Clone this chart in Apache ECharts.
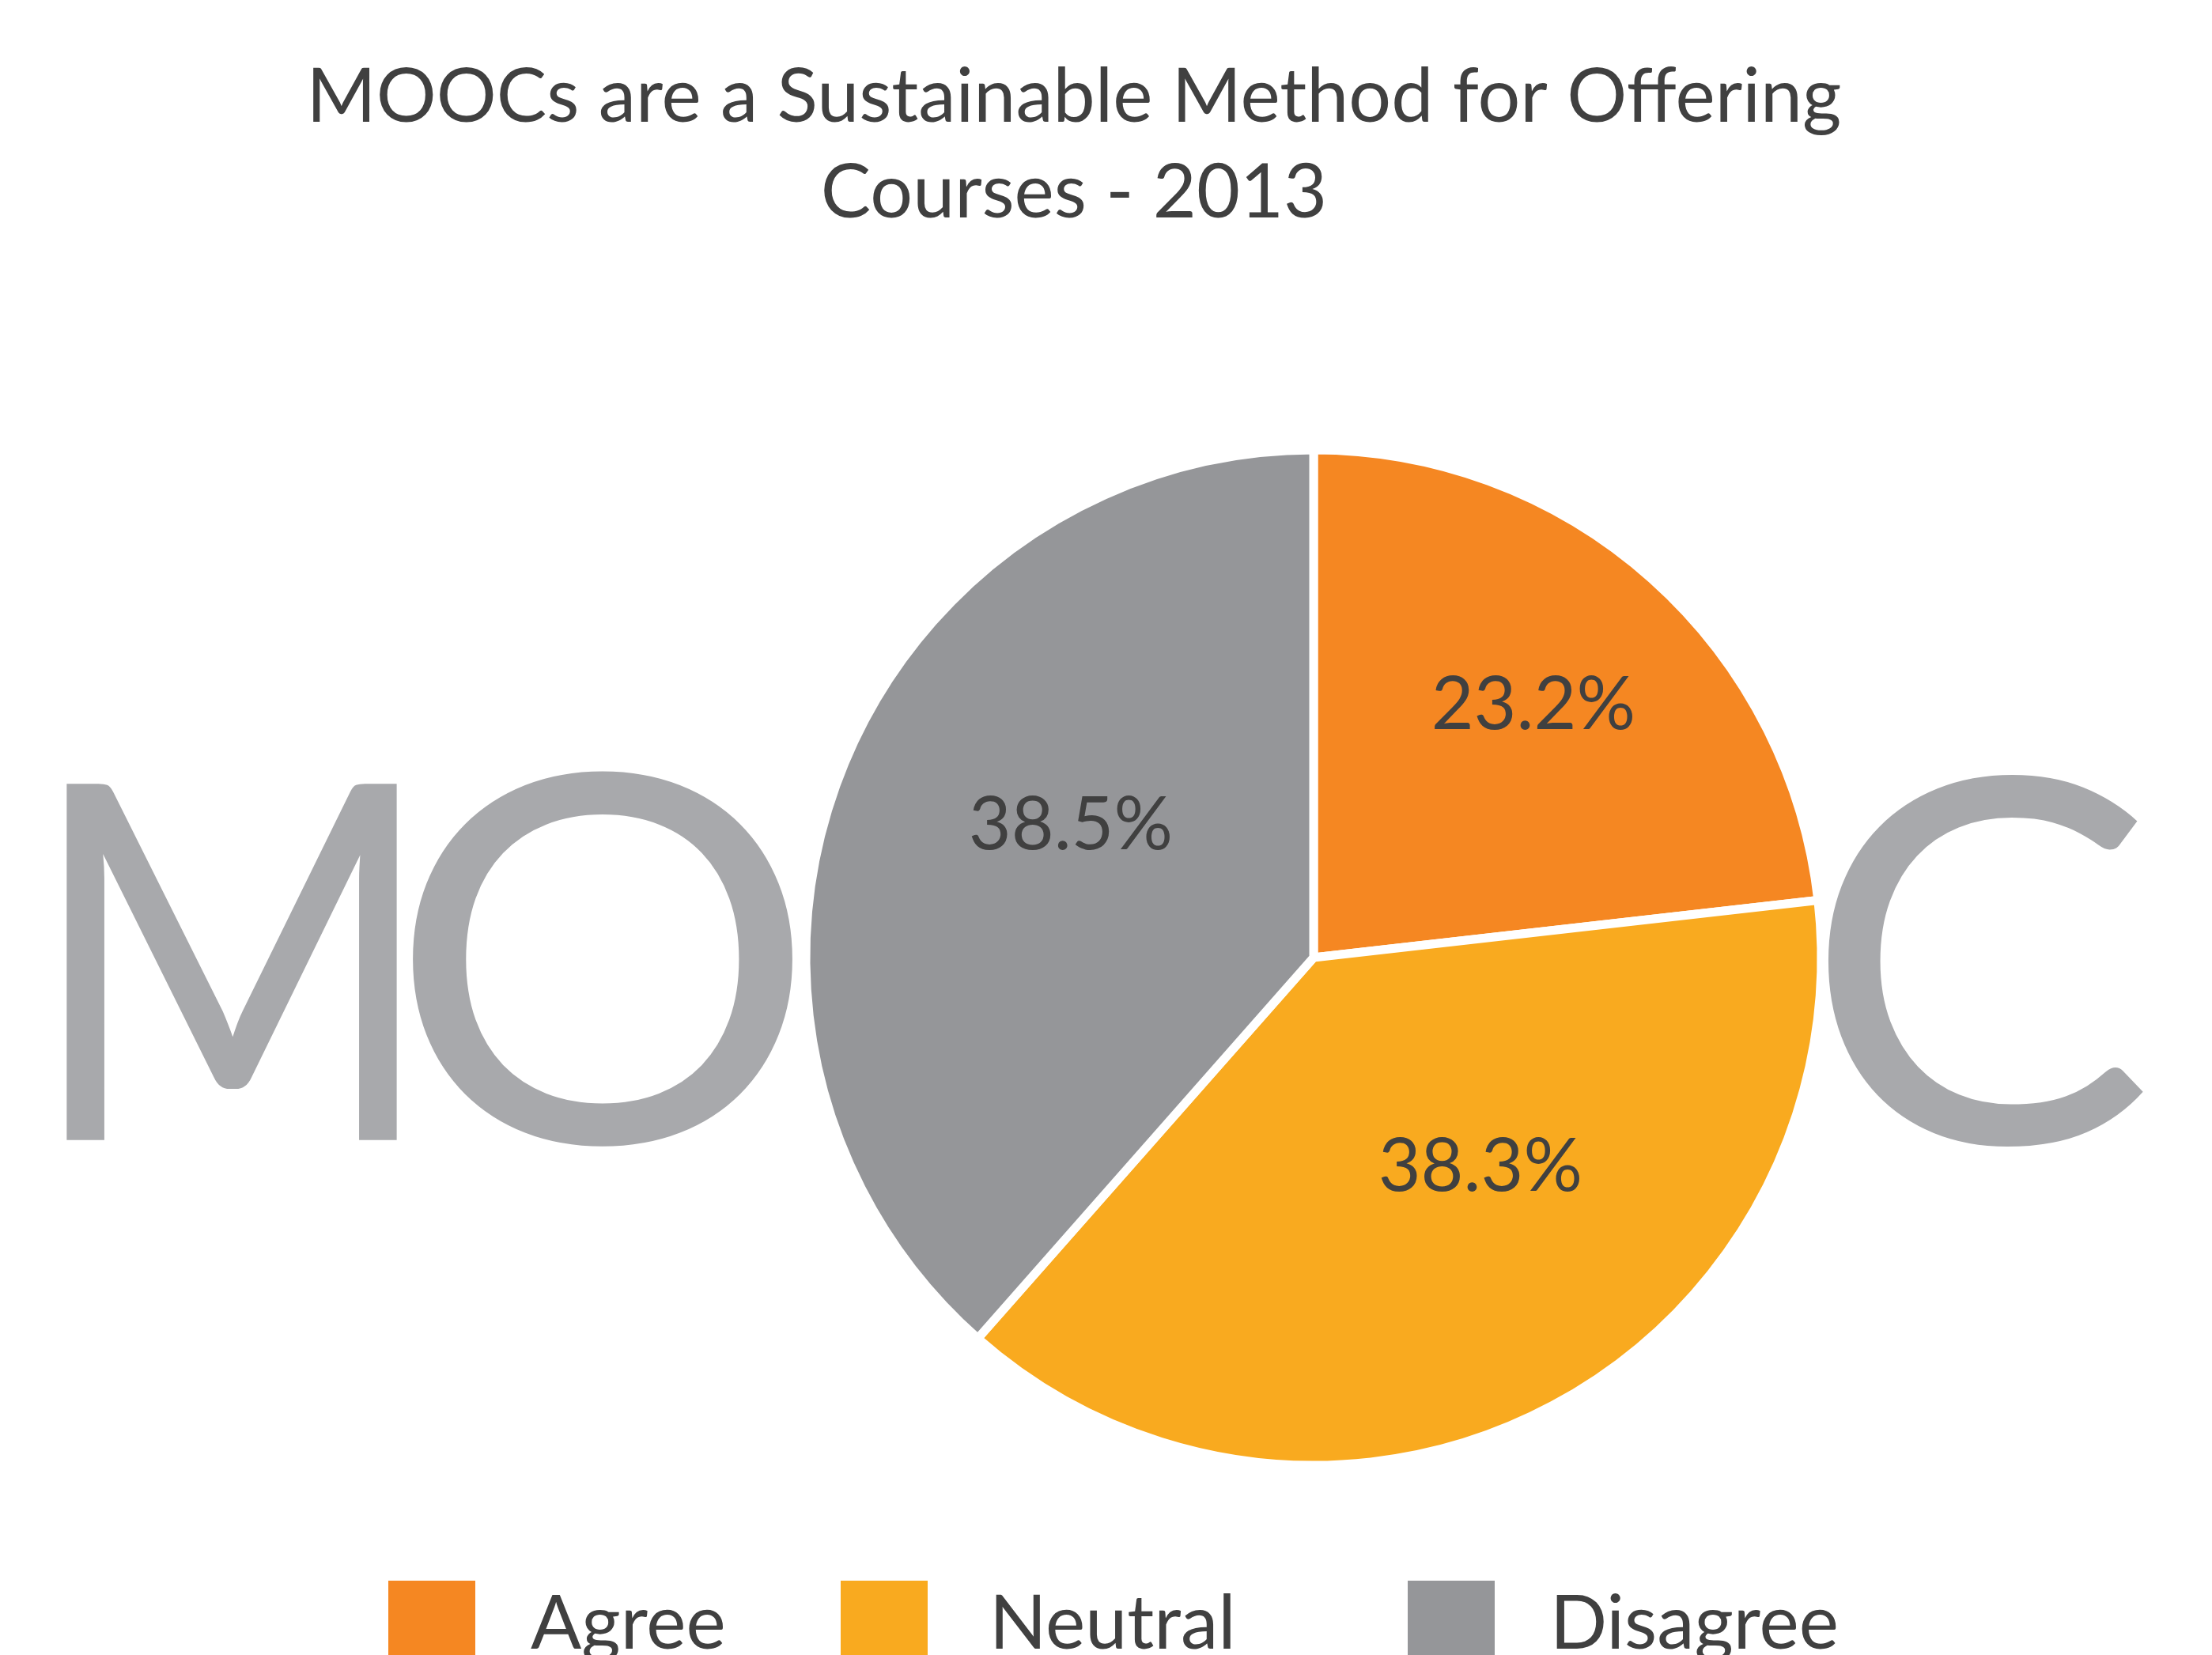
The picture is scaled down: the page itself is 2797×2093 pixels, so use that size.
<!DOCTYPE html>
<html>
<head>
<meta charset="utf-8">
<script src="https://cdn.jsdelivr.net/npm/echarts@6/dist/echarts.min.js"></script>
<style>
html,body{margin:0;padding:0;background:#fff;}
#chart{width:2797px;height:2093px;}
</style>
</head>
<body>
<div id="chart"></div>
<script>
// ---- data ----
const titleLines = ['MOOCs are a Sustainable Method for Offering', 'Courses - 2013'];
const categories = ['Agree', 'Neutral', 'Disagree'];
const values = [23.2, 38.3, 38.5];
const backdropLetters = ['M', 'O', 'C'];

// ---- styles ----
const colors = ['#F58722', '#F9AA1F', '#959699'];
const labelNudges = [[62, -77], [61, -22], [-4, -52]];
// [x, y, scaleX, scaleY]
const letterPlaces = [[293, 1239, 0.89, 1.0], [762, 1236, 1.08, 1.03], [2502, 1238, 1.055, 1.02]];
const legendLefts = [489, 1061, 1778];
const FONT = 'Lato';
const TEXT = '#404040';

const chart = echarts.init(document.getElementById('chart'), null, {renderer: 'canvas'});

const pieData = categories.map((c, i) => ({
  name: c,
  value: values[i],
  itemStyle: {color: colors[i]},
  label: {offset: labelNudges[i]}
}));

const option = {
  animation: false,
  backgroundColor: '#ffffff',
  title: {
    text: titleLines.join('\n'),
    left: 1358,
    top: 63,
    textAlign: 'center',
    padding: 0,
    textStyle: {fontFamily: FONT, fontWeight: 'normal', fontSize: 95, lineHeight: 121, color: TEXT}
  },
  legend: categories.map((c, i) => ({
    data: [c],
    left: legendLefts[i],
    top: 1997,
    padding: 0,
    icon: 'rect',
    itemWidth: 112,
    itemHeight: 112,
    selectedMode: false,
    textStyle: {fontFamily: FONT, fontSize: 95, color: TEXT, padding: [0, 0, 0, i === 1 ? 72 : 64]}
  })),
  graphic: backdropLetters.map((ch, i) => ({
    type: 'text',
    x: letterPlaces[i][0],
    y: letterPlaces[i][1],
    scaleX: letterPlaces[i][2],
    scaleY: letterPlaces[i][3],
    z: 0,
    silent: true,
    style: {
      text: ch,
      x: 0, y: 0,
      font: 'normal 629px ' + FONT,
      fill: '#A8A9AC',
      textAlign: 'center',
      textVerticalAlign: 'middle'
    }
  })),
  series: [{
    type: 'pie',
    center: [1661, 1211],
    radius: 642,
    startAngle: 90,
    clockwise: true,
    z: 5,
    silent: true,
    data: pieData,
    itemStyle: {borderColor: '#ffffff', borderWidth: 11},
    label: {
      show: true,
      position: 'inside',
      formatter: p => p.value.toFixed(1) + '%',
      fontFamily: FONT,
      fontSize: 93,
      color: TEXT
    },
    labelLine: {show: false},
    emphasis: {disabled: true}
  }]
};
chart.setOption(option);
</script>
</body>
</html>
